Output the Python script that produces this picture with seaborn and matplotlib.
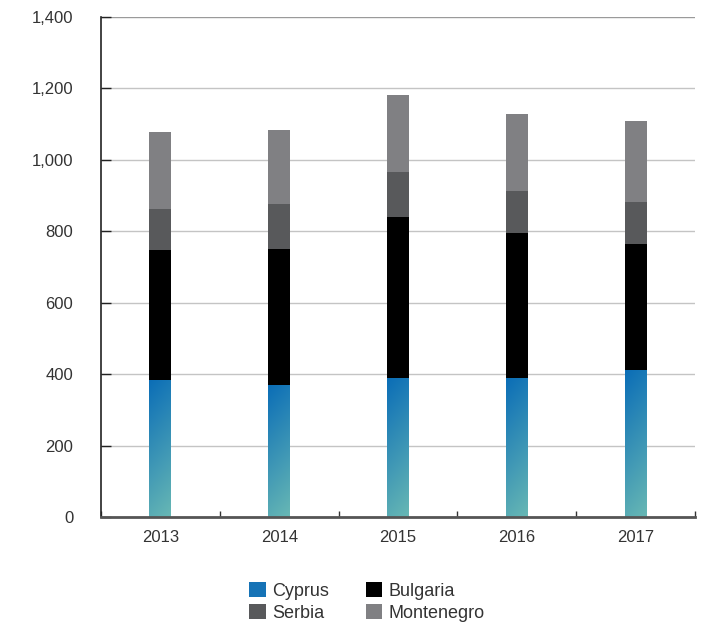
import numpy as np
import pandas as pd
import matplotlib
matplotlib.use("Agg")
import matplotlib.pyplot as plt
import seaborn as sns
from matplotlib.patches import Patch

years = ["2013", "2014", "2015", "2016", "2017"]
cyprus = [384, 370, 390, 390, 412]
bulgaria = [364, 380, 450, 405, 352]
serbia = [114, 126, 126, 118, 118]
montenegro = [216, 208, 216, 215, 226]
yticks = [0, 200, 400, 600, 800, 1000, 1200, 1400]

series = ["Cyprus", "Bulgaria", "Serbia", "Montenegro"]
colors = {"Cyprus": "#1673b6", "Bulgaria": "#000000",
          "Serbia": "#58595b", "Montenegro": "#808083"}

df = pd.DataFrame({"year": years, "Cyprus": cyprus, "Bulgaria": bulgaria,
                   "Serbia": serbia, "Montenegro": montenegro})
cum = df[series].cumsum(axis=1)
cum["year"] = df["year"]

sns.set_theme(style="white")
plt.rcParams["font.family"] = ["Liberation Sans", "DejaVu Sans"]
text_color = "#333333"

fig = plt.figure(figsize=(7.16, 6.25), dpi=100)
ax = fig.add_axes([101 / 716, 1 - 517 / 625, 594 / 716, 500 / 625])

# stacked bars: draw cumulative totals from the top layer down
for name in reversed(series):
    sns.barplot(data=cum, x="year", y=name, order=years, color=colors[name],
                width=0.185, saturation=1, ax=ax, edgecolor="none", linewidth=0,
                zorder=3)

ax.set_xlim(-0.5, 4.5)
ax.set_ylim(0, 1400)

# blue-to-teal gradient inside the Cyprus segments (drawn last)
n = len(years)
grad_top = np.array(matplotlib.colors.to_rgb("#0a6db7"))
grad_bot = np.array(matplotlib.colors.to_rgb("#68b8b4"))
gy, gx = np.mgrid[0:1:200j, 0:1:40j]
t = np.clip(0.85 * gy + 0.15 * (1 - gx), 0, 1)[..., None]
img = grad_bot * (1 - t) + grad_top * t
cy_patches = ax.patches[-n:]
for p in cy_patches:
    x0, y0 = p.get_x(), p.get_y()
    w, h = p.get_width(), p.get_height()
    im = ax.imshow(img, extent=[x0, x0 + w, y0, y0 + h], origin="lower",
                   aspect="auto", zorder=4, interpolation="bilinear")
    im.set_clip_path(p)
ax.set_xlim(-0.5, 4.5)
ax.set_ylim(0, 1400)
ax.set_aspect("auto")

# grid and spines
ax.set_yticks(yticks)
ax.set_yticklabels([f"{v:,}" for v in yticks])
ax.yaxis.grid(True, color="#c4c4c4", linewidth=1.0, zorder=0)
ax.set_axisbelow(True)
ax.get_ygridlines()[-1].set_color("#9a9a9a")
for s in ["top", "right"]:
    ax.spines[s].set_visible(False)
ax.spines["left"].set_color("#222222")
ax.spines["left"].set_linewidth(1.2)
ax.spines["bottom"].set_color("#555555")
ax.spines["bottom"].set_linewidth(2.0)
ax.spines["bottom"].set_zorder(6)

ax.set_xlabel("")
ax.set_ylabel("")
ax.tick_params(axis="y", direction="in", length=7, width=1.0, color="#222222",
               left=True, pad=20, labelsize=12, labelcolor=text_color)
ax.tick_params(axis="x", which="major", length=0, pad=9, labelsize=12,
               labelcolor=text_color)
ax.set_xticks(np.arange(-0.5, 5.0, 1.0), minor=True)
ax.tick_params(axis="x", which="minor", direction="in", length=4, width=1.0,
               color="#333333", bottom=True)

handles = [Patch(facecolor=colors[s], edgecolor="none") for s in
           ["Cyprus", "Serbia", "Bulgaria", "Montenegro"]]
labels = ["Cyprus", "Serbia", "Bulgaria", "Montenegro"]
fig.legend(handles, labels, ncol=2, loc="center", bbox_to_anchor=(367 / 716, 1 - 602 / 625),
           frameon=False, fontsize=13, labelcolor=text_color, handlelength=0.9,
           handleheight=0.9, handletextpad=0.35, columnspacing=2.05, labelspacing=0.2)

fig.savefig("out.png", dpi=100)
